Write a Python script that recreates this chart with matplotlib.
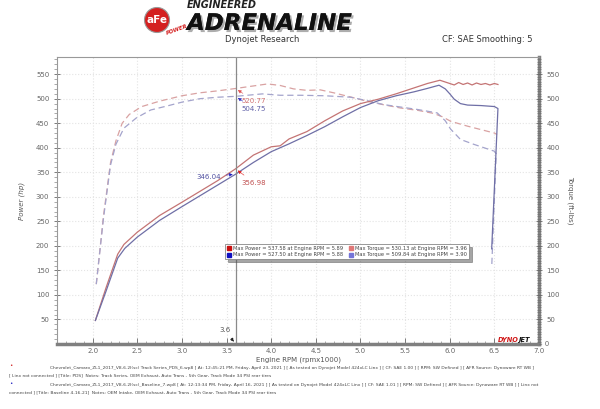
import numpy as np
import matplotlib
matplotlib.use("Agg")
import matplotlib.pyplot as plt
import matplotlib.patheffects as pe
from matplotlib.patches import Circle
from matplotlib.lines import Line2D

# run 1 (Track Series PDS) - power
pds_pwr_rpm = [2.03, 2.15, 2.28, 2.35, 2.5, 2.75, 3.0, 3.2, 3.4, 3.6, 3.8, 4.0, 4.1, 4.2, 4.4,
               4.6, 4.8, 5.0, 5.2, 5.4, 5.6, 5.75, 5.89, 6.0, 6.05, 6.1, 6.15, 6.2, 6.25,
               6.3, 6.35, 6.4, 6.45, 6.5, 6.54]
pds_pwr = [48, 115, 183, 203, 228, 262, 289, 311, 333, 357, 385, 402, 404, 418, 433,
           455, 475, 490, 499, 510, 522, 531, 537.6, 531, 528, 533, 529, 532, 528,
           532, 529, 531, 528, 531, 529]

# run 2 (Baseline) - power
base_pwr_rpm = [2.03, 2.15, 2.28, 2.36, 2.5, 2.75, 3.0, 3.2, 3.4, 3.6, 3.8, 4.0, 4.2, 4.4,
                4.6, 4.8, 5.0, 5.2, 5.4, 5.6, 5.75, 5.88, 5.95, 6.0, 6.05, 6.12, 6.2,
                6.35, 6.5, 6.54, 6.47]
base_pwr = [48, 108, 175, 195, 218, 252, 280, 302, 324, 346, 370, 392, 408, 425,
            443, 463, 482, 496, 506, 514, 521, 527.5, 520, 510, 499, 490, 487,
            486, 484, 480, 194]

# run 1 - torque
pds_trq_rpm = [2.04, 2.12, 2.2, 2.26, 2.33, 2.41, 2.55, 2.75, 3.0, 3.2, 3.4, 3.6, 3.8, 3.96,
               4.1, 4.25, 4.4, 4.55, 4.7, 4.9, 5.07, 5.25, 5.45, 5.65, 5.82, 5.92, 6.01,
               6.2, 6.35, 6.5, 6.53]
pds_trq = [122, 260, 370, 414, 450, 468, 484, 495, 506, 512, 516, 520.8, 526, 530.1,
           527, 520, 517, 518, 512, 503, 495, 488, 481, 476, 470, 463, 454,
           444, 437, 430, 427]

# run 2 - torque
base_trq_rpm = [2.04, 2.12, 2.2, 2.26, 2.35, 2.49, 2.65, 2.83, 3.0, 3.2, 3.4, 3.6, 3.9,
                4.1, 4.33, 4.6, 4.89, 5.1, 5.26, 5.45, 5.64, 5.86, 5.95, 6.01, 6.12,
                6.27, 6.5, 6.52, 6.47]
base_trq = [122, 255, 365, 407, 440, 461, 477, 485, 493, 500, 503, 504.8, 509.8,
            507, 507, 506, 503, 495, 488, 483, 478, 471, 455, 438, 417,
            407, 393, 388, 156]

cursor_rpm = 3.6
cursor_vals = {"pds_trq": 520.77, "base_trq": 504.75, "base_pwr": 346.04, "pds_pwr": 356.98}

legend_labels = ["Max Power = 537.58 at Engine RPM = 5.89",
                 "Max Power = 527.50 at Engine RPM = 5.88",
                 "Max Torque = 530.13 at Engine RPM = 3.96",
                 "Max Torque = 509.84 at Engine RPM = 3.90"]

footer = [
    "Chevrolet_Camaro_ZL1_2017_V8-6.2l(sc) Track Series_PDS_6.wp8 [ At: 12:45:21 PM, Friday, April 23, 2021 ] [ As tested on Dynojet Model 424xLC Linx ] [ CF: SAE 1.00 ] [ RPM: SW Defined ] [ AFR Source: Dynoware RT WB ]",
    "[ Linx not connected ] [Title: PDS]  Notes: Track Series, OEM Exhaust, Auto Trans - 5th Gear, Track Mode 34 PSI rear tires",
    "Chevrolet_Camaro_ZL1_2017_V8-6.2l(sc)_Baseline_7.wp8 [ At: 12:13:34 PM, Friday, April 16, 2021 ] [ As tested on Dynojet Model 424xLC Linx ] [ CF: SAE 1.01 ] [ RPM: SW Defined ] [ AFR Source: Dynoware RT WB ] [ Linx not",
    "connected ] [Title: Baseline 4-16-21]  Notes: OEM Intake, OEM Exhaust, Auto Trans - 5th Gear, Track Mode 34 PSI rear tires",
]

red_solid = "#c47474"
blue_solid = "#6f6fa6"
red_dash = "#d9a2a2"
blue_dash = "#a4a4cc"

W, H = 600, 409
fig = plt.figure(figsize=(6, 4.09), dpi=100)
ax = fig.add_axes([57 / W, 1 - 344 / H, 482 / W, 287 / H])

ax.plot(pds_trq_rpm, pds_trq, color=red_dash, lw=0.9, ls=(0, (5, 3)))
ax.plot(base_trq_rpm, base_trq, color=blue_dash, lw=0.9, ls=(0, (5, 3)))
ax.plot(pds_pwr_rpm, pds_pwr, color=red_solid, lw=0.9)
ax.plot(base_pwr_rpm, base_pwr, color=blue_solid, lw=0.9)

ax.set_xlim(1.6, 7.0)
ax.set_ylim(0, 585)
ax.set_xticks(np.arange(2.0, 7.01, 0.5))
ax.set_xticks(np.arange(1.7, 7.0, 0.1), minor=True)
ax.set_yticks(np.arange(50, 551, 50))
ax.set_yticks(np.arange(10, 585, 10), minor=True)
ax.grid(True, which="major", color="#e4e4e4", ls=":", lw=0.8)
ax.tick_params(labelsize=5, colors="#666666", length=3, width=0.6)
ax.tick_params(axis="y", direction="inout", length=4)
ax.tick_params(axis="y", which="minor", direction="out", length=2, width=0.5, colors="#888888")
ax.tick_params(axis="x", direction="in", length=4, pad=3)
ax.tick_params(axis="x", which="minor", direction="in", length=2.5, width=0.5, colors="#888888")
ax.xaxis.set_major_formatter(matplotlib.ticker.FormatStrFormatter("%.1f"))
for s in ["top", "left"]:
    ax.spines[s].set_color("#999999")
    ax.spines[s].set_linewidth(0.8)
ax.spines["bottom"].set_color("#808080")
ax.spines["bottom"].set_linewidth(2.5)
ax.spines["right"].set_color("#808080")
ax.spines["right"].set_linewidth(2.5)

ax2 = ax.twinx()
ax2.set_ylim(ax.get_ylim())
ax2.set_yticks(np.arange(50, 551, 50))
ax2.set_yticks(np.arange(5, 585, 5), minor=True)
ax2.tick_params(labelsize=5, colors="#666666", direction="inout", length=4, width=0.6)
ax2.tick_params(which="minor", direction="inout", length=3, width=0.5, colors="#707070")
for s in ax2.spines.values():
    s.set_visible(False)
ax2.text(1.0, 0, "– 0", transform=ax2.transAxes, fontsize=5, color="#666666", va="center", ha="left")

ax.set_xlabel("Engine RPM (rpmx1000)", fontsize=5, color="#555555", labelpad=2)
ax.set_ylabel("Power (hp)", fontsize=5, color="#555555", style="italic", labelpad=8)
ax2.set_ylabel("Torque (ft-lbs)", fontsize=5, color="#555555", rotation=-90, labelpad=10)

# cursor
ax.axvline(cursor_rpm, color="#8a8a8a", lw=0.9)
arr = dict(arrowstyle="-|>", lw=0.4, mutation_scale=5)
ax.annotate(f"{cursor_vals['pds_trq']:.2f}", xy=(cursor_rpm, cursor_vals["pds_trq"]),
            xytext=(3.67, 496), fontsize=5, color="#d07070", va="center",
            arrowprops=dict(arr, color="#e05050"))
ax.annotate(f"{cursor_vals['base_trq']:.2f}", xy=(cursor_rpm, cursor_vals["base_trq"]),
            xytext=(3.67, 480), fontsize=5, color="#6060a8", va="center",
            arrowprops=dict(arr, color="#3030c0"))
ax.annotate(f"{cursor_vals['base_pwr']:.2f}", xy=(cursor_rpm, cursor_vals["base_pwr"]),
            xytext=(3.16, 341), fontsize=5, color="#5050a0", va="center",
            arrowprops=dict(arr, color="#2020c0"))
ax.annotate(f"{cursor_vals['pds_pwr']:.2f}", xy=(cursor_rpm, cursor_vals["pds_pwr"]),
            xytext=(3.67, 329), fontsize=5, color="#c05050", va="center",
            arrowprops=dict(arr, color="#e02020"))
ax.annotate("3.6", xy=(cursor_rpm, 0), xytext=(3.42, 28), fontsize=5, color="#555555",
            va="center",
            arrowprops=dict(arrowstyle="-|>", lw=0.5, color="#222222", mutation_scale=5,
                            ls=(0, (2, 1))))

handles = [Line2D([], [], ls="", marker="s", ms=2.6, color=c)
           for c in ["#c81010", "#1010c0", "#e07878", "#7474d8"]]
leg = ax.legend(handles, legend_labels, ncol=2, fontsize=3.7, loc="center",
                bbox_to_anchor=(0.602, 0.322), frameon=True, fancybox=False, shadow=True,
                handlelength=0.6, handletextpad=0.5, columnspacing=1.3, borderpad=0.35,
                labelspacing=0.35, labelcolor="#444444")
leg.get_frame().set_edgecolor("#888888")
leg.get_frame().set_linewidth(0.6)

# dynojet mark
ax.text(6.54, 3, "DYNO", fontsize=4.8, color="#d01818", style="italic", weight="bold",
        ha="left", va="bottom")
ax.text(6.77, 3, "JET", fontsize=4.8, color="#111111", style="italic", weight="bold",
        ha="left", va="bottom")

# header
fig.patches.append(Circle((1.57, 4.09 - 0.20), 0.125, transform=fig.dpi_scale_trans,
                          facecolor="#d42020", edgecolor="#999999", lw=0.8))
fig.text(157 / W, 1 - 20 / H, "aFe", fontsize=7.5, color="white", weight="bold",
         ha="center", va="center")
fig.text(166 / W, 1 - 30 / H, "POWER", fontsize=4, color="#d42020", weight="bold",
         style="italic", ha="left", va="center", rotation=20)
fig.text(187 / W, 1 - 5 / H, "ENGINEERED", fontsize=7, color="#222222", weight="heavy",
         style="italic", ha="left", va="center")
fig.text(187 / W, 1 - 23.5 / H, "ADRENALINE", fontsize=16.5, color="#111111", weight="heavy",
         style="italic", ha="left", va="center",
         path_effects=[pe.withSimplePatchShadow(offset=(1.5, -1.5), shadow_rgbFace="#999999",
                                                alpha=0.8), pe.Normal()])
fig.text(262 / W, 1 - 40 / H, "Dynojet Research", fontsize=6, color="#333333",
         ha="center", va="center")
fig.text(533 / W, 1 - 40 / H, "CF: SAE Smoothing: 5", fontsize=6, color="#333333",
         ha="right", va="center")

# footer
fs = 3.15
fig.text(9 / W, 1 - 366 / H, "•", fontsize=4, color="#d02020", ha="left", va="center")
fig.text(50 / W, 1 - 368 / H, footer[0], fontsize=fs, color="#444444", ha="left", va="center")
fig.text(9 / W, 1 - 375 / H, footer[1], fontsize=fs, color="#444444", ha="left", va="center")
fig.text(9 / W, 1 - 383 / H, "•", fontsize=4, color="#2020c0", ha="left", va="center")
fig.text(50 / W, 1 - 385 / H, footer[2], fontsize=fs, color="#444444", ha="left", va="center")
fig.text(9 / W, 1 - 392 / H, footer[3], fontsize=fs, color="#444444", ha="left", va="center")

fig.savefig("out.png", dpi=100)
